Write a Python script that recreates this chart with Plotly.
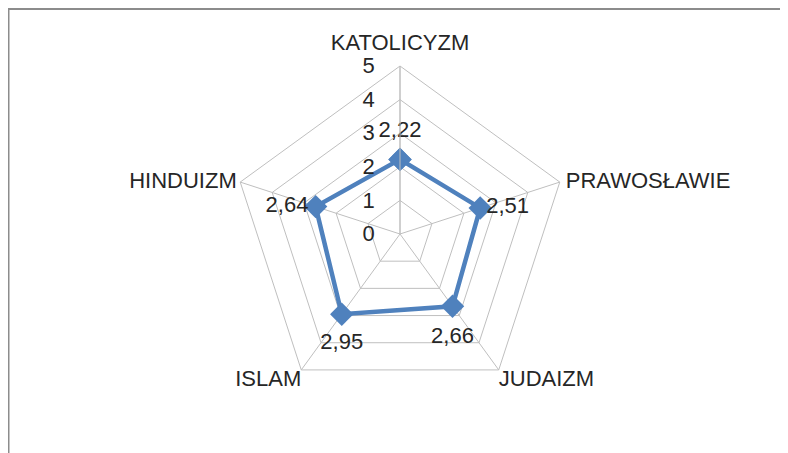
import plotly.graph_objects as go

categories = ['KATOLICYZM', 'PRAWOSŁAWIE', 'JUDAIZM', 'ISLAM', 'HINDUIZM']
values = [2.22, 2.51, 2.66, 2.95, 2.64]
radial_ticks = [0, 1, 2, 3, 4, 5]
radial_max = 5

# label placement (Excel-like offsets, via invisible marker size)
value_pos = ['top center', 'middle right', 'bottom center', 'bottom center', 'middle left']
value_gap = [25, 8, 30, 27, 10]
cat_pos = ['top center', 'middle right', 'bottom right', 'bottom left', 'middle left']
cat_gap = [16, 8, 0, 0, 4]

W, H = 788, 453
# page body adds an 8px offset, so positions are given relative to that
cx, cy, R = 392, 226, 168

FONT = 'Liberation Sans'
GRID = '#bfbfbf'
BLUE = '#4f81bd'
TXT = '#262626'
FS = 22

fig = go.Figure()

# closed line
fig.add_trace(go.Scatterpolar(
    r=values + values[:1],
    theta=categories + categories[:1],
    mode='lines+markers',
    line=dict(color=BLUE, width=4.5),
    marker=dict(symbol='diamond', size=18, color=BLUE),
    hoverinfo='skip',
    showlegend=False,
))

# data labels
fig.add_trace(go.Scatterpolar(
    r=values,
    theta=categories,
    mode='markers+text',
    marker=dict(size=value_gap, opacity=0),
    text=[f'{v:.2f}'.replace('.', ',') for v in values],
    textposition=value_pos,
    textfont=dict(family=FONT, size=FS, color=TXT),
    cliponaxis=False,
    hoverinfo='skip',
    showlegend=False,
))

# category labels at the outer ring
fig.add_trace(go.Scatterpolar(
    r=[radial_max] * len(categories),
    theta=categories,
    mode='markers+text',
    marker=dict(size=cat_gap, opacity=0),
    text=categories,
    textposition=cat_pos,
    textfont=dict(family=FONT, size=FS, color=TXT),
    cliponaxis=False,
    hoverinfo='skip',
    showlegend=False,
))

fig.update_layout(
    width=W, height=H,
    margin=dict(l=0, r=0, t=0, b=0),
    paper_bgcolor='white',
    plot_bgcolor='white',
    font=dict(family=FONT, size=FS, color=TXT),
    polar=dict(
        domain=dict(x=[(cx - R) / W, (cx + R) / W],
                    y=[(H - cy - R) / H, (H - cy + R) / H]),
        gridshape='linear',
        bgcolor='white',
        radialaxis=dict(
            range=[0, radial_max],
            tickvals=radial_ticks,
            angle=90,
            tickangle=90,
            side='counterclockwise',
            showline=True,
            linecolor=GRID,
            linewidth=1,
            gridcolor=GRID,
            gridwidth=1,
            ticks='outside',
            ticklen=17,
            tickcolor='rgba(0,0,0,0)',
            tickfont=dict(family=FONT, size=FS, color=TXT),
        ),
        angularaxis=dict(
            direction='clockwise',
            rotation=90,
            showline=True,
            linecolor=GRID,
            linewidth=1,
            gridcolor=GRID,
            gridwidth=1,
            ticks='',
            showticklabels=False,
        ),
    ),
    shapes=[
        dict(type='line', xref='paper', yref='paper',
             x0=0, x1=1, y0=1 - 1 / H, y1=1 - 1 / H,
             line=dict(color='#8c8c8c', width=2)),
        dict(type='line', xref='paper', yref='paper',
             x0=0.5 / W, x1=0.5 / W, y0=0, y1=1,
             line=dict(color='#8c8c8c', width=2)),
    ],
)

fig.write_html('out.html')
